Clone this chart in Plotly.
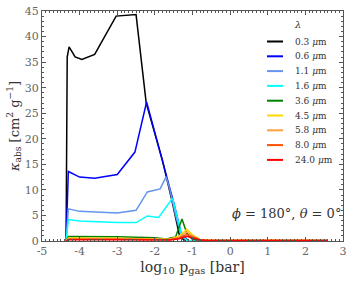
import plotly.graph_objects as go

x_black = [-4.36, -4.33, -4.28, -4.12, -3.94, -3.6, -3.03, -2.5, -2.23, -1.8, -1.55, -1.35, -1.22, -0.7, 2.6]
y_black = [0, 36, 38, 36, 35.5, 36.5, 44.0, 44.3, 27, 15.8, 8, 1.2, 0.1, 0.05, 0.05]

x_blue = [-4.36, -4.3, -4.0, -3.6, -3.0, -2.53, -2.22, -1.81, -1.5, -1.3, -1.12, -0.7, 2.6]
y_blue = [0, 13.6, 12.5, 12.3, 13.0, 17.4, 27.2, 16.2, 7.5, 1.5, 0.1, 0.05, 0.05]

x_lblue = [-4.36, -4.3, -4.0, -3.5, -3.0, -2.5, -2.2, -1.86, -1.7, -1.6, -1.45, -1.3, -1.15, -0.7, 2.6]
y_lblue = [0, 6.3, 5.8, 5.6, 5.5, 6.0, 9.6, 10.2, 12.6, 10, 5, 1, 0.1, 0.05, 0.05]

x_cyan = [-4.36, -4.3, -4.0, -3.0, -2.5, -2.2, -1.9, -1.53, -1.45, -1.3, -1.15, -0.7, 2.6]
y_cyan = [0, 4.2, 3.9, 3.6, 3.6, 4.9, 4.6, 8.4, 6, 1.5, 0.1, 0.05, 0.05]

x_green = [-4.36, -4.3, -3.0, -2.5, -2.0, -1.7, -1.45, -1.28, -1.15, -1.0, -0.7, 2.6]
y_green = [0, 0.9, 0.85, 0.8, 0.65, 0.4, 0.8, 4.3, 1.5, 0.3, 0.1, 0.1]

x_gold = [-4.36, -4.3, -3.0, -2.0, -1.6, -1.35, -1.15, -1.0, -0.8, -0.6, 2.6]
y_gold = [0, 0.6, 0.55, 0.5, 0.35, 1.0, 2.3, 1.2, 0.3, 0.1, 0.1]

x_orange = [-4.36, -4.3, -3.0, -2.0, -1.6, -1.35, -1.15, -1.0, -0.8, -0.6, 2.6]
y_orange = [0, 0.45, 0.42, 0.4, 0.3, 0.8, 1.8, 1.0, 0.3, 0.1, 0.1]

x_dorange = [-4.36, -4.3, -3.0, -2.0, -1.6, -1.35, -1.15, -1.0, -0.8, -0.6, 2.6]
y_dorange = [0, 0.35, 0.33, 0.3, 0.25, 0.6, 1.3, 0.8, 0.25, 0.1, 0.1]

x_red = [-4.36, -4.3, -3.0, -2.0, -1.6, -1.35, -1.15, -1.0, -0.8, -0.6, 2.6]
y_red = [0, 0.25, 0.24, 0.22, 0.2, 0.45, 0.9, 0.6, 0.2, 0.1, 0.1]

x_ticks = [-5, -4, -3, -2, -1, 0, 1, 2, 3]
x_ticklabels = ["-5", "-4", "-3", "-2", "-1", "0", "1", "2", "3"]
y_ticks = [0, 5, 10, 15, 20, 25, 30, 35, 40, 45]

labels = ["0.3 <i>μ</i>m", "0.6 <i>μ</i>m", "1.1 <i>μ</i>m", "1.6 <i>μ</i>m", "3.6 <i>μ</i>m",
          "4.5 <i>μ</i>m", "5.8 <i>μ</i>m", "8.0 <i>μ</i>m", "24.0 <i>μ</i>m"]
colors = ["#000000", "#0000ff", "#6495ed", "#00ffff", "#008000",
          "#ffd700", "#ffa040", "#ff5000", "#ff0000"]
series = [(x_black, y_black), (x_blue, y_blue), (x_lblue, y_lblue), (x_cyan, y_cyan),
          (x_green, y_green), (x_gold, y_gold), (x_orange, y_orange),
          (x_dorange, y_dorange), (x_red, y_red)]

W, H = 349, 284
ML, MR, MT, MB = 42, 6, 11, 43
PW, PH = W - ML - MR, H - MT - MB


def px_x(p):
    return (p - ML) / PW


def px_y(p):
    return (H - MB - p) / PH


fig = go.Figure()
for (xs, ys), lab, col in zip(series, labels, colors):
    fig.add_trace(go.Scatter(x=xs, y=ys, mode="lines", name=lab, showlegend=False,
                             line=dict(color=col, width=1.5)))

font_fam = "DejaVu Serif"
axis_common = dict(showline=True, linecolor="#555555", linewidth=1, mirror="allticks",
                   ticks="inside", tickcolor="#555555", ticklen=4, showgrid=False,
                   zeroline=False, automargin=False,
                   tickfont=dict(family=font_fam, size=11, color="#666666"))

# manual legend (compact rows like the reference)
shapes = []
annotations = []
annotations.append(dict(text="<i>λ</i>", xref="paper", yref="paper", x=px_x(297), y=px_y(24),
                        xanchor="center", yanchor="middle", showarrow=False,
                        font=dict(family=font_fam, size=10, color="#333333")))
row0, step = 41.5, 14.8
for i, (lab, col) in enumerate(zip(labels, colors)):
    yy = px_y(row0 + i * step)
    shapes.append(dict(type="line", xref="paper", yref="paper", x0=px_x(267), x1=px_x(283),
                       y0=yy, y1=yy, line=dict(color=col, width=2)))
    annotations.append(dict(text=lab, xref="paper", yref="paper", x=px_x(293), y=yy,
                            xanchor="left", yanchor="middle", showarrow=False,
                            font=dict(family=font_fam, size=9, color="#333333")))

annotations.append(dict(text="<i>ϕ</i> = 180°, <i>θ</i> = 0°", xref="paper", yref="paper",
                        x=1.0, y=px_y(213), xanchor="right", yanchor="middle", showarrow=False,
                        font=dict(family=font_fam, size=13, color="#333333")))

fig.update_layout(
    width=W, height=H, autosize=False,
    margin=dict(l=ML, r=MR, t=MT, b=MB),
    paper_bgcolor="white", plot_bgcolor="white",
    font=dict(family=font_fam, color="#444444"),
    showlegend=False,
    xaxis=dict(range=[-5, 3], tickvals=x_ticks, ticktext=x_ticklabels,
               minor=dict(dtick=0.1, ticks="inside", ticklen=2, tickcolor="#555555"),
               title=dict(text="log<sub>10</sub> p<sub>gas</sub> [bar]", standoff=4,
                          font=dict(family=font_fam, size=14, color="#333333")),
               **axis_common),
    yaxis=dict(range=[0, 45], tickvals=y_ticks,
               minor=dict(dtick=1, ticks="inside", ticklen=2, tickcolor="#555555"),
               title=dict(text="<i>κ</i><sub>abs</sub> [cm<sup>2</sup> g<sup>−1</sup>]", standoff=2,
                          font=dict(family=font_fam, size=13, color="#333333")),
               **axis_common),
    shapes=shapes,
    annotations=annotations,
)

fig.write_html("out.html", config={"displayModeBar": False},
               post_script="document.body.style.margin='0';")
